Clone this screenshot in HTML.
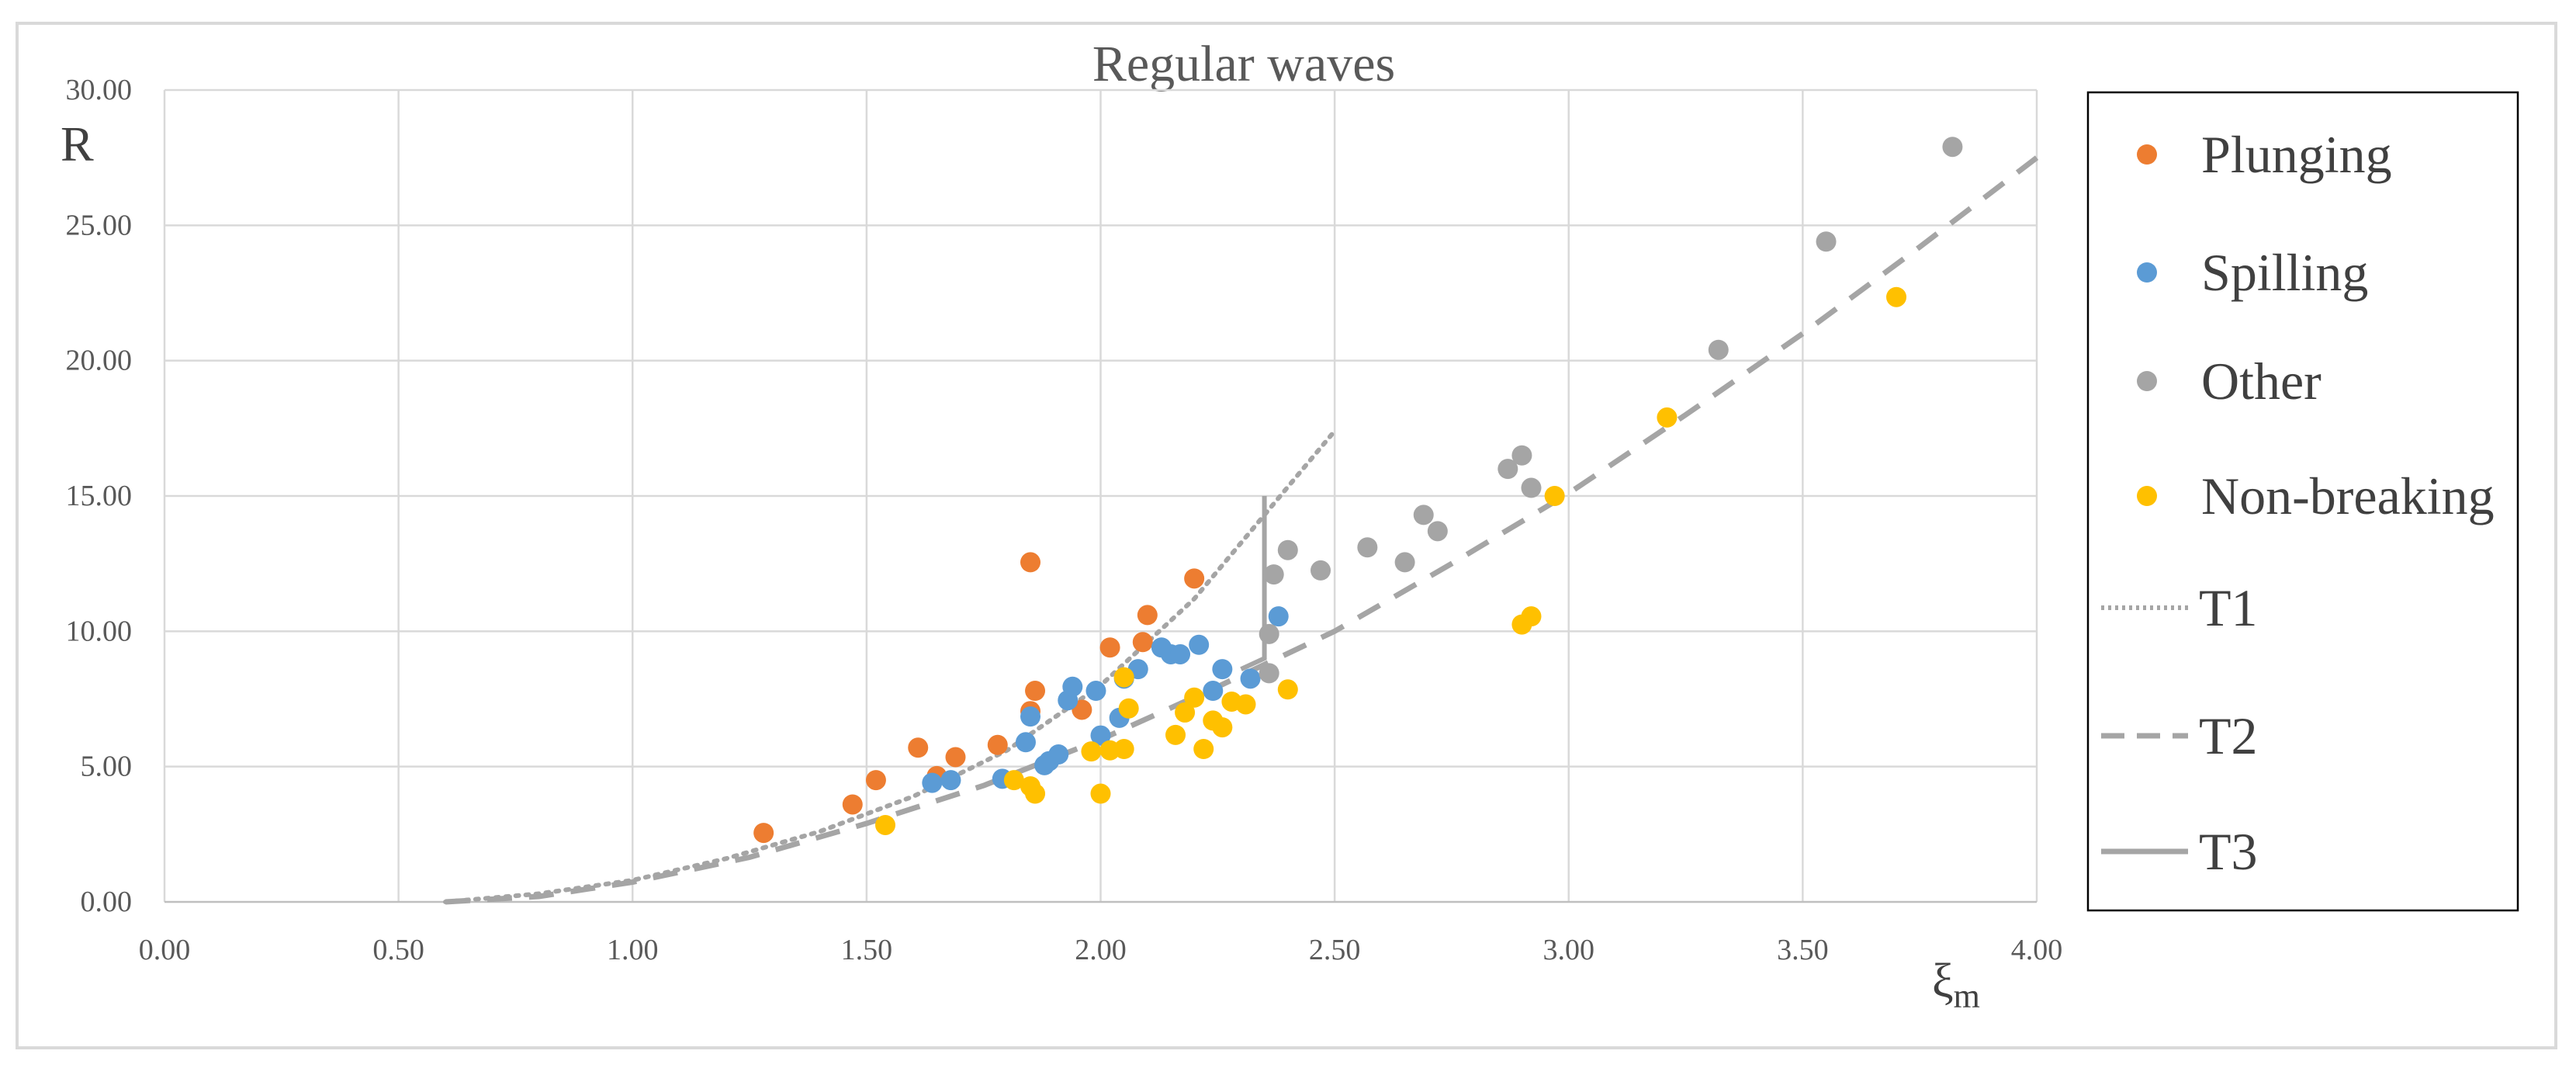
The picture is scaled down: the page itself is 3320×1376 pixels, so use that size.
<!DOCTYPE html>
<html><head><meta charset="utf-8"><style>
html,body{margin:0;padding:0;background:#fff;}
svg{display:block;}
text{font-family:"Liberation Serif",serif;}
</style></head><body>
<svg id="chart" width="3320" height="1376" viewBox="0 0 3320 1376" xmlns="http://www.w3.org/2000/svg">
<rect x="22" y="30" width="3272" height="1320" fill="#fff" stroke="#d9d9d9" stroke-width="4"/>
<text x="1603" y="104" font-size="66" fill="#595959" text-anchor="middle">Regular waves</text>
<g id="grid"></g>
<g id="axes"></g>
<g id="lines"></g>
<g id="points"></g>
<text x="78" y="207" font-size="64" fill="#404040">R</text>
<text x="2490" y="1284" font-size="62" fill="#404040">ξ<tspan font-size="44" dy="14">m</tspan></text>
<g>
<rect x="2691" y="119" width="554" height="1054" fill="#fff" stroke="#000" stroke-width="2.5"/>
<g><circle cx="2767" cy="199" r="13" fill="#ED7D31"/><text x="2837" y="222" font-size="68" fill="#404040">Plunging</text></g>
<g><circle cx="2767" cy="351" r="13" fill="#5B9BD5"/><text x="2837" y="374" font-size="68" fill="#404040">Spilling</text></g>
<g><circle cx="2767" cy="491" r="13" fill="#A5A5A5"/><text x="2837" y="514" font-size="68" fill="#404040">Other</text></g>
<g><circle cx="2767" cy="639" r="13" fill="#FFC000"/><text x="2837" y="662" font-size="68" fill="#404040">Non-breaking</text></g>
<g><line x1="2708" y1="783" x2="2820" y2="783" stroke="#A5A5A5" stroke-width="6" stroke-dasharray="4 5"/><text x="2834" y="806" font-size="68" fill="#404040">T1</text></g>
<g><line x1="2708" y1="948" x2="2820" y2="948" stroke="#A5A5A5" stroke-width="7" stroke-dasharray="30 16"/><text x="2834" y="971" font-size="68" fill="#404040">T2</text></g>
<g><line x1="2708" y1="1097" x2="2820" y2="1097" stroke="#A5A5A5" stroke-width="7"/><text x="2834" y="1120" font-size="68" fill="#404040">T3</text></g>
</g>
</svg>
<script>
const xTicks=[0,0.5,1,1.5,2,2.5,3,3.5,4];
const yTicks=[0,5,10,15,20,25,30];
const plungingX=[1.28,1.47,1.52,1.61,1.65,1.69,1.78,1.85,1.85,1.86,1.96,2.02,2.09,2.10,2.20];
const plungingY=[2.55,3.6,4.5,5.7,4.65,5.35,5.8,12.55,7.05,7.8,7.1,9.4,9.6,10.6,11.95];
const spillingX=[1.64,1.68,1.79,1.84,1.85,1.88,1.89,1.91,1.93,1.94,1.99,2.00,2.04,2.05,2.08,2.13,2.15,2.17,2.21,2.24,2.26,2.32,2.38];
const spillingY=[4.4,4.5,4.55,5.9,6.85,5.05,5.2,5.45,7.45,7.95,7.8,6.15,6.8,8.25,8.6,9.4,9.15,9.15,9.5,7.8,8.6,8.25,10.55];
const otherX=[2.36,2.36,2.37,2.40,2.47,2.57,2.65,2.69,2.72,2.87,2.90,2.92,3.32,3.55,3.82];
const otherY=[8.45,9.9,12.1,13.0,12.25,13.1,12.55,14.3,13.7,16.0,16.5,15.3,20.4,24.4,27.9];
const nonBreakingX=[1.54,1.815,1.85,1.86,2.00,1.98,2.02,2.05,2.06,2.05,2.16,2.18,2.20,2.22,2.24,2.26,2.28,2.31,2.40,2.90,2.92,2.97,3.21,3.70];
const nonBreakingY=[2.84,4.5,4.27,4.0,4.0,5.56,5.6,5.65,7.15,8.3,6.17,7.0,7.55,5.65,6.7,6.45,7.4,7.3,7.85,10.25,10.55,15.0,17.9,22.35];
const t1X=[0.6,0.8,1.0,1.2,1.4,1.6,1.8,2.0,2.2,2.35,2.5];
const t1Y=[0,0.3,0.8,1.6,2.6,3.9,5.6,8.0,11.2,14.3,17.4];
const t2X=[0.6,0.8,1.0,1.25,1.5,1.75,2.0,2.25,2.5,2.75,3.0,3.25,3.5,3.75,4.0];
const t2Y=[0,0.2,0.73,1.65,2.9,4.3,6.0,7.95,10.0,12.5,15.1,18.0,21.0,24.2,27.5];
const t3X=[2.30,2.35,2.35];
const t3Y=[8.6,9.0,15.0];

const NS="http://www.w3.org/2000/svg";
const X0=212,X1=2625,Y0=1162,Y1=116;
const sx=v=>X0+(v-0)/(4-0)*(X1-X0);
const sy=v=>Y0-(v-0)/(30-0)*(Y0-Y1);
function mk(tag,attrs,parent){const e=document.createElementNS(NS,tag);for(const k in attrs)e.setAttribute(k,attrs[k]);parent.appendChild(e);return e;}
const grid=document.getElementById('grid'),axes=document.getElementById('axes'),lines=document.getElementById('lines'),pts=document.getElementById('points');
xTicks.forEach(t=>{
  const l=mk('line',{x1:sx(t),x2:sx(t),y1:Y1,y2:Y0,stroke:'#d9d9d9','stroke-width':2.5},grid);
  
  
  const tx=mk('text',{x:sx(t),y:Y0+74,'font-size':38,fill:'#595959','text-anchor':'middle'},axes);
  tx.textContent=t.toFixed(2);
  
  
});
yTicks.forEach(t=>{
  const l=mk('line',{x1:X0,x2:X1,y1:sy(t),y2:sy(t),stroke:t===0?'#bfbfbf':'#d9d9d9','stroke-width':2.5},grid);
  
  
  const tx=mk('text',{x:X0-42,y:sy(t)+12,'font-size':38,fill:'#595959','text-anchor':'end'},axes);
  tx.textContent=t.toFixed(2);
  
  
});
function path(xs,ys,style,name){
  const d=xs.map((x,i)=>(i?'L':'M')+sx(x).toFixed(1)+' '+sy(ys[i]).toFixed(1)).join(' ');
  const p=mk('path',Object.assign({d:d,fill:'none',stroke:'#A5A5A5'},style),lines);
  
  
}
path(t1X,t1Y,{'stroke-width':6,'stroke-dasharray':'4 9','stroke-linecap':'round'},'t1-line');
path(t2X,t2Y,{'stroke-width':7,'stroke-dasharray':'32 22'},'t2-line');
path(t3X,t3Y,{'stroke-width':6},'t3-line');
function scatter(xs,ys,color,name){
  xs.forEach((x,i)=>{
    const c=mk('circle',{cx:sx(x),cy:sy(ys[i]),r:13,fill:color},pts);
    
    
  });
}
scatter(plungingX,plungingY,'#ED7D31','plunging-point');
scatter(spillingX,spillingY,'#5B9BD5','spilling-point');
scatter(otherX,otherY,'#A5A5A5','other-point');
scatter(nonBreakingX,nonBreakingY,'#FFC000','non-breaking-point');
</script>
</body></html>
